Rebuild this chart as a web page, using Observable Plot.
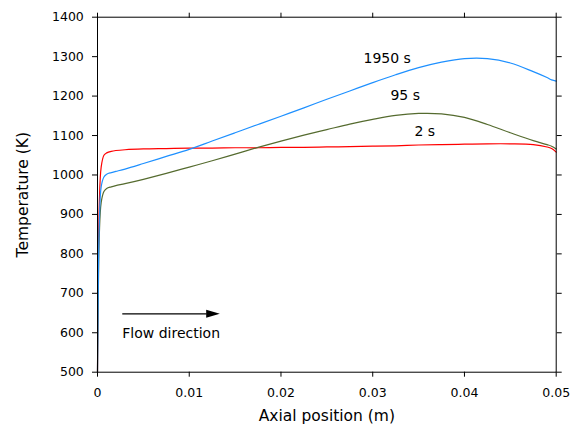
<!DOCTYPE html>
<html>
<head>
<meta charset="utf-8">
<script src="https://cdn.jsdelivr.net/npm/d3@7"></script>
<script src="https://cdn.jsdelivr.net/npm/@observablehq/plot@0.6"></script>
<style>
  html, body { margin: 0; padding: 0; background: #fff; }
</style>
</head>
<body>
<div id="chart"></div>
<script>
// Axial positions (m)
const positions = [0, 0.0001, 0.0002, 0.0004, 0.0007, 0.001, 0.0015, 0.002, 0.003, 0.005,
  0.0075, 0.01, 0.0125, 0.015, 0.0175, 0.02, 0.0225, 0.025, 0.0275, 0.03, 0.0325,
  0.035, 0.0375, 0.04, 0.0425, 0.045, 0.0475, 0.049, 0.0495, 0.05];
// Temperatures (K)
const temp2s = [500, 800, 930, 1020, 1050, 1056, 1060, 1062, 1064, 1066,
  1067, 1068, 1068, 1069, 1069, 1070, 1070, 1071, 1072, 1073, 1074,
  1076, 1077, 1078, 1079, 1079, 1077, 1071, 1067, 1058];
const temp95s = [500, 720, 850, 930, 958, 966, 970, 973, 978, 989,
  1004, 1020, 1036, 1053, 1070, 1086, 1101, 1115, 1129, 1141, 1151,
  1156, 1155, 1146, 1128, 1107, 1087, 1077, 1073, 1066];
const temp1950s = [500, 750, 880, 970, 995, 1002, 1006, 1009, 1015, 1029,
  1047, 1065, 1086, 1107, 1128, 1149, 1170, 1192, 1213, 1234, 1254,
  1272, 1286, 1295, 1295, 1284, 1262, 1247, 1241, 1238];
const seriesNames = ["2 s", "95 s", "1950 s"];
const seriesColors = ["#ff0000", "#556b2f", "#1e90ff"];
const seriesTemps = [temp2s, temp95s, temp1950s];
// Label anchors [x, y]
const labelX = [0.03568, 0.03354, 0.03158];
const labelY = [1100, 1189, 1285];
const xTicks = [0, 0.01, 0.02, 0.03, 0.04, 0.05];
const yTicks = [500, 600, 700, 800, 900, 1000, 1100, 1200, 1300, 1400];
const arrowStart = [0.0027, 648];
const arrowHead = [0.01259, 648];
const arrowShaftEnd = 0.0119;
const flowText = "Flow direction";
const flowTextPos = [0.0027, 587];

const rows = [];
seriesNames.forEach((name, i) => {
  positions.forEach((x, j) => rows.push({series: name, x, y: seriesTemps[i][j]}));
});
const labels = seriesNames.map((name, i) => ({name, x: labelX[i], y: labelY[i]}));

const headSymbol = {
  draw(ctx) {
    ctx.moveTo(-6.8, -4);
    ctx.lineTo(6.8, 0);
    ctx.lineTo(-6.8, 4);
    ctx.closePath();
  }
};

const font = "'DejaVu Sans', sans-serif";
const chart = Plot.plot({
  width: 583,
  height: 425,
  marginLeft: 97,
  marginRight: 27.3,
  marginTop: 16.7,
  marginBottom: 53.3,
  style: {fontFamily: font, fontSize: "12.5px", background: "#fff", color: "#000"},
  x: {domain: [0, 0.05]},
  y: {domain: [500, 1400]},
  color: {domain: seriesNames, range: seriesColors},
  marks: [
    Plot.line(rows, {x: "x", y: "y", z: "series", stroke: "series", strokeWidth: 1.2, curve: "catmull-rom"}),
    Plot.text(labels, {x: "x", y: "y", text: "name", lineAnchor: "bottom", fontSize: 14, fill: "#000"}),
    Plot.link([{x1: arrowStart[0], y1: arrowStart[1], x2: arrowShaftEnd, y2: arrowStart[1]}],
      {x1: "x1", y1: "y1", x2: "x2", y2: "y2", stroke: "#000", strokeWidth: 1.3}),
    Plot.dot([{x: arrowHead[0], y: arrowHead[1]}], {x: "x", y: "y", symbol: headSymbol, fill: "#000", stroke: "none"}),
    Plot.text([flowText], {x: () => flowTextPos[0], y: () => flowTextPos[1], text: d => d, textAnchor: "start", lineAnchor: "bottom", fontSize: 14, fill: "#000"}),
    Plot.axisX({anchor: "bottom", ticks: xTicks, tickSize: 5, tickPadding: 11, label: null,
      tickFormat: d => d === 0 ? "0" : d.toFixed(2)}),
    Plot.axisX({anchor: "top", ticks: xTicks, tickSize: 5, label: null, tickFormat: () => ""}),
    Plot.axisY({anchor: "left", ticks: yTicks, tickSize: 5, tickPadding: 8.7, label: null, tickFormat: d => String(d)}),
    Plot.axisY({anchor: "right", ticks: yTicks, tickSize: 5, label: null, tickFormat: () => ""}),
    Plot.frame({stroke: "#000", strokeWidth: 1}),
    Plot.text(["Axial position (m)"], {frameAnchor: "bottom", dy: 48.3, text: d => d, textAnchor: "middle", lineAnchor: "bottom", fontSize: 15.5, fill: "#000"}),
    Plot.text(["Temperature (K)"], {frameAnchor: "left", dx: -70, rotate: -90, text: d => d, textAnchor: "middle", lineAnchor: "bottom", fontSize: 15.5, fill: "#000"})
  ]
});
document.getElementById("chart").appendChild(chart);
</script>
</body>
</html>
